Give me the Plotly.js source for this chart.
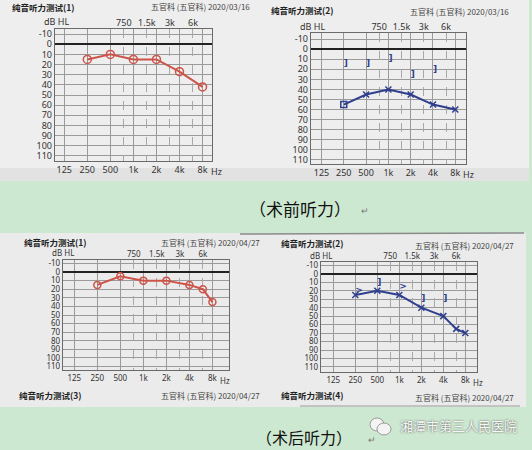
<!DOCTYPE html>
<html><head><meta charset="utf-8">
<script src="https://cdn.plot.ly/plotly-3.0.1.min.js"></script>
<style>html,body{margin:0;padding:0;background:#cde8d0;}#chart{width:532px;height:450px;}</style>
</head><body><div id="chart"></div>
<script>
// ---- data ----
const OCTAVES = [125, 250, 500, 1000, 2000, 4000, 8000];
const OCTAVE_LABELS = ['125', '250', '500', '1k', '2k', '4k', '8k'];
const HALF_OCTAVES = [750, 1500, 3000, 6000];
const HALF_LABELS = ['750', '1.5k', '3k', '6k'];
const DB_TICKS = [-10, 0, 10, 20, 30, 40, 50, 60, 70, 80, 90, 100, 110];
const DB_LABELS = ['-10', '0', '10', '20', '30', '40', '50', '60', '70', '80', '90', '100', '110'];

const PRE_FREQ = [250, 500, 1000, 2000, 4000, 8000];
const PRE_RIGHT_AC = [15, 10, 15, 15, 27, 42];
const PRE_LEFT_AC = [55, 45, 40, 45, 55, 60];
const PRE_LEFT_AC_SYMBOLS = ['square-open', 'x-thin-open', 'x-thin-open', 'x-thin-open', 'x-thin-open', 'x-thin-open'];
const PRE_LEFT_BC_FREQ = [250, 500, 1000, 2000, 4000];
const PRE_LEFT_BC = [15, 15, 10, 25, 20];
const PRE_LEFT_BC_MARKS = [']', ']', ']', ']', ']'];

const POST_FREQ = [250, 500, 1000, 2000, 4000, 6000, 8000];
const POST_RIGHT_AC = [15, 5, 10, 10, 15, 20, 35];
const POST_LEFT_AC = [25, 20, 25, 40, 50, 65, 70];
const POST_LEFT_BC_FREQ = [250, 500, 1000, 2000, 4000];
const POST_LEFT_BC = [20, 10, 15, 30, 30];
const POST_LEFT_BC_MARKS = ['>', ']', '>', ']', ']'];

const PANEL_TITLES = ['纯音听力测试(1)', '纯音听力测试(2)', '纯音听力测试(1)', '纯音听力测试(2)', '纯音听力测试(3)', '纯音听力测试(4)'];
const DEPT_TEXT = ['五官科 (五官科) 2020/03/16', '五官科 (五官科) 2020/03/16', '五官科 (五官科) 2020/04/27', '五官科 (五官科) 2020/04/27', '五官科 (五官科) 2020/04/27', '五官科 (五官科) 2020/04/27'];
const CAPTIONS = ['（术前听力）', '（术后听力）'];
const WATERMARK = '湘潭市第三人民医院';

// ---- layout helpers ----
const W = 532, H = 450;
const px = x => x / W, py = y => 1 - y / H;
const RED = '#cc5449', BLUE = '#2f3f8e';
const FONT = 'Noto Sans, Noto Sans CJK SC, sans-serif';
const CJK = 'Noto Sans CJK SC, sans-serif';
const L2 = Math.log10(2);

const panels = [
  {x0: 55, x1: 212, y0: 29, y1: 161, ml: 0.40, mr: 0.41, yr: [115, -15], fs: 9},
  {x0: 311, x1: 466, y0: 33, y1: 164, ml: 0.47, mr: 0.48, yr: [114, -16], fs: 9},
  {x0: 63, x1: 229, y0: 260, y1: 370, ml: 0.49, mr: 0.72, yr: [114, -14], fs: 8},
  {x0: 321, x1: 477, y0: 262, y1: 372, ml: 0.56, mr: 0.53, yr: [116, -14], fs: 8}
];

const layout = {
  width: W, height: H,
  margin: {l: 0, r: 0, t: 0, b: 0},
  paper_bgcolor: '#cde8d0',
  plot_bgcolor: 'rgba(0,0,0,0)',
  showlegend: false,
  font: {family: FONT, color: '#333', size: 10},
  shapes: [
    {type: 'rect', xref: 'paper', yref: 'paper', x0: 0, x1: px(529), y0: py(181), y1: 1, fillcolor: '#eeeeee', line: {width: 0}, layer: 'below'},
    {type: 'rect', xref: 'paper', yref: 'paper', x0: 0, x1: px(529), y0: py(181), y1: py(168), fillcolor: '#e2e2e2', line: {width: 0}, layer: 'below'},
    {type: 'rect', xref: 'paper', yref: 'paper', x0: 0, x1: px(526), y0: py(407), y1: py(233), fillcolor: '#ebebeb', line: {width: 0}, layer: 'below'},
    {type: 'line', xref: 'paper', yref: 'paper', x0: px(240), x1: px(524), y0: py(234), y1: py(233), line: {color: '#8a8a8a', width: 1.5}, layer: 'below'},
    {type: 'line', xref: 'paper', yref: 'paper', x0: px(300), x1: px(520), y0: py(406), y1: py(406), line: {color: '#9a9a9a', width: 1}, layer: 'below'},
    {type: 'circle', xref: 'paper', yref: 'paper', x0: px(370), x1: px(384), y0: py(431), y1: py(418), fillcolor: '#f4f4f4', line: {color: '#9a9a9a', width: 1}},
    {type: 'circle', xref: 'paper', yref: 'paper', x0: px(377), x1: px(391), y0: py(435), y1: py(423), fillcolor: '#f4f4f4', line: {color: '#9a9a9a', width: 1}}
  ],
  annotations: []
};

const ann = (x, y, text, font, xanchor) => ({
  xref: 'paper', yref: 'paper', x: px(x), y: py(y), text: text, showarrow: false,
  xanchor: xanchor || 'center', yanchor: 'middle', font: font
});

const traces = [];
panels.forEach((p, i) => {
  const n = i + 1;
  const xs = n === 1 ? '' : n;
  const xr = [Math.log10(125) - p.ml * L2, Math.log10(8000) + p.mr * L2];
  const xdom = [px(p.x0), px(p.x1)];
  const ydom = [py(p.y1), py(p.y0)];
  layout['xaxis' + xs] = {
    type: 'log', domain: xdom, range: xr, anchor: 'y' + xs,
    tickmode: 'array', tickvals: OCTAVES, ticktext: OCTAVE_LABELS,
    showgrid: true, gridcolor: '#9a9a9a', gridwidth: 1,
    showline: true, linecolor: '#6a6a6a', linewidth: 1.2, mirror: true,
    ticks: '', tickfont: {size: p.fs, color: '#333'}, fixedrange: true, zeroline: false
  };
  layout['yaxis' + xs] = {
    domain: ydom, range: p.yr, anchor: 'x' + xs,
    tickmode: 'array', tickvals: DB_TICKS, ticktext: DB_LABELS,
    showgrid: true, gridcolor: '#9a9a9a', gridwidth: 1,
    zeroline: true, zerolinecolor: '#222', zerolinewidth: 2.2,
    showline: true, linecolor: '#6a6a6a', linewidth: 1.2, mirror: true,
    ticks: '', tickfont: {size: p.fs, color: '#333'}, fixedrange: true
  };
  const tn = n + 4;
  layout['xaxis' + tn] = {
    type: 'log', domain: xdom, range: xr, overlaying: 'x' + xs, anchor: 'y' + xs, side: 'top',
    tickmode: 'array', tickvals: HALF_OCTAVES, ticktext: HALF_LABELS,
    showgrid: true, gridcolor: '#a8a8a8', gridwidth: 1, griddash: 'dash',
    ticks: '', tickfont: {size: p.fs, color: '#333'}, fixedrange: true, zeroline: false, showline: false
  };
  traces.push({x: [1000], y: [200], xaxis: 'x' + tn, yaxis: 'y' + xs, mode: 'markers', marker: {opacity: 0}, hoverinfo: 'skip'});
  layout.annotations.push({xref: 'x' + xs, yref: 'paper', x: Math.log10(8000), y: py(p.y1 + 10), text: 'Hz', showarrow: false, xanchor: 'left', yanchor: 'middle', xshift: 6, font: {size: p.fs, color: '#333'}});
  layout.annotations.push(ann(p.x0 - 13, p.y0 - 7, 'dB HL', {size: p.fs, color: '#333'}, 'left'));
});

const hdr = [
  {tx: 10, ty: 7, dx: 252, dy: 7},
  {tx: 269, ty: 10, dx: 511, dy: 12},
  {tx: 22, ty: 242, dx: 262, dy: 242},
  {tx: 279, ty: 243, dx: 516, dy: 246},
  {tx: 17, ty: 395, dx: 262, dy: 395},
  {tx: 279, ty: 395, dx: 516, dy: 397}
];
hdr.forEach((h, i) => {
  layout.annotations.push(ann(h.tx, h.ty, '<b>' + PANEL_TITLES[i] + '</b>', {family: CJK, size: 8.5, color: '#222'}, 'left'));
  layout.annotations.push(ann(h.dx, h.dy, DEPT_TEXT[i], {family: CJK, size: 8, color: '#444'}, 'right'));
});

layout.annotations.push(ann(300, 208, CAPTIONS[0], {family: CJK, size: 17, color: '#111'}));
layout.annotations.push(ann(365, 210, '↵', {family: FONT, size: 9, color: '#777'}));
layout.annotations.push(ann(304, 437, CAPTIONS[1], {family: CJK, size: 16, color: '#111'}));
layout.annotations.push(ann(372, 439, '↵', {family: FONT, size: 9, color: '#777'}));
layout.annotations.push(ann(398, 425, WATERMARK, {family: CJK, size: 13, color: '#f6f6f6', shadow: '0px 0px 2px #444'}, 'left'));

const acLine = (x, y, ax, color, symbols, sz) => ({
  x: x, y: y, xaxis: 'x' + ax, yaxis: 'y' + ax, mode: 'lines+markers',
  line: {color: color, width: 2},
  marker: {symbol: symbols, size: sz, color: color, line: {color: color, width: 1.5}},
  hoverinfo: 'skip'
});
traces.push(acLine(PRE_FREQ, PRE_RIGHT_AC, '', RED, 'circle-open', 8));
traces.push(acLine(PRE_FREQ, PRE_LEFT_AC, '2', BLUE, PRE_LEFT_AC_SYMBOLS, 6));
traces.push(acLine(POST_FREQ, POST_RIGHT_AC, '3', RED, 'circle-open', 7));
traces.push(acLine(POST_FREQ, POST_LEFT_AC, '4', BLUE, 'x-thin-open', 6));
traces.push({x: PRE_LEFT_BC_FREQ, y: PRE_LEFT_BC, text: PRE_LEFT_BC_MARKS, xaxis: 'x2', yaxis: 'y2', mode: 'text', textposition: 'middle right', textfont: {size: 9, color: BLUE, family: 'DejaVu Sans', weight: 'bold'}, hoverinfo: 'skip'});
traces.push({x: POST_LEFT_BC_FREQ, y: POST_LEFT_BC, text: POST_LEFT_BC_MARKS, xaxis: 'x4', yaxis: 'y4', mode: 'text', textposition: 'middle right', textfont: {size: 9, color: BLUE, family: 'DejaVu Sans', weight: 'bold'}, hoverinfo: 'skip'});

Plotly.newPlot('chart', traces, layout, {staticPlot: true});
</script></body></html>
